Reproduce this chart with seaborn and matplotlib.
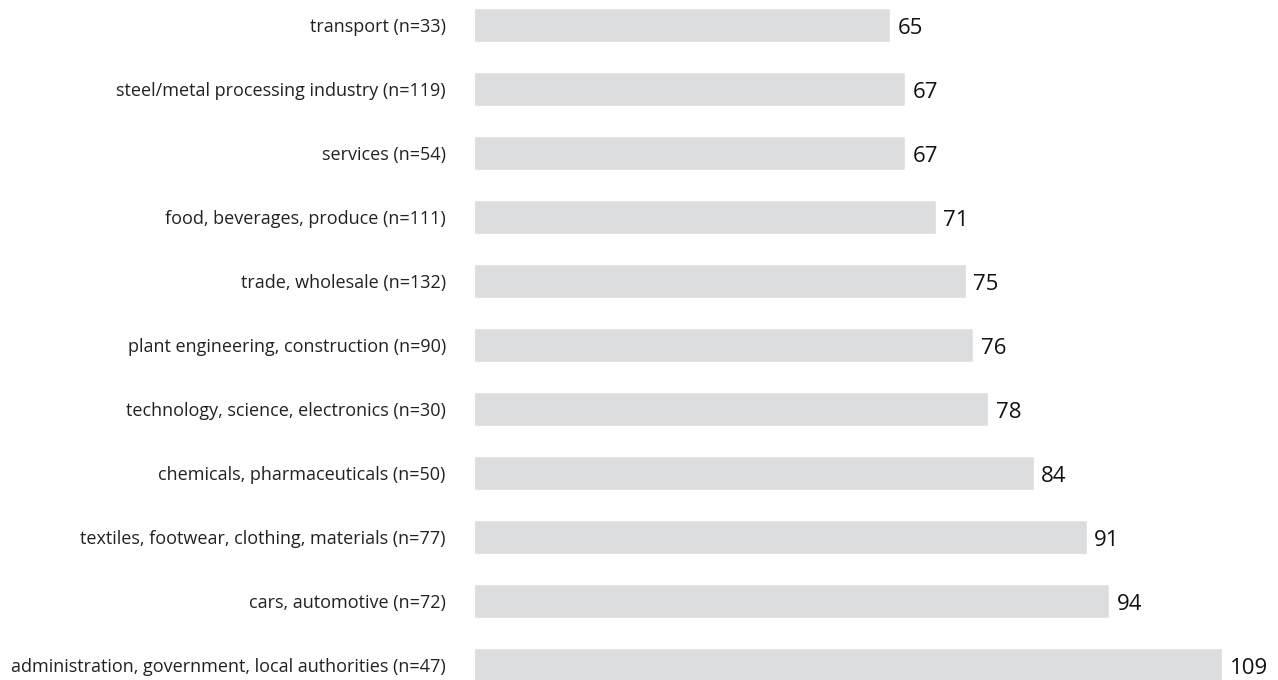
import numpy as np
import pandas as pd
import matplotlib
matplotlib.use('Agg')
import matplotlib.pyplot as plt
import seaborn as sns

# Data
sectors = [
    'transport (n=33)',
    'steel/metal processing industry (n=119)',
    'services (n=54)',
    'food, beverages, produce (n=111)',
    'trade, wholesale (n=132)',
    'plant engineering, construction (n=90)',
    'technology, science, electronics (n=30)',
    'chemicals, pharmaceuticals (n=50)',
    'textiles, footwear, clothing, materials (n=77)',
    'cars, automotive (n=72)',
    'administration, government, local authorities (n=47)',
]
values = [65, 67, 67, 71, 75, 76, 78, 84, 91, 94, 109]

df = pd.DataFrame({'sector': sectors, 'value': values})

sns.set_style('white')
plt.rcParams['font.family'] = ['Open Sans', 'DejaVu Sans']

fig = plt.figure(figsize=(12.78, 6.8), dpi=100)
ax = fig.add_axes([475 / 1278, 0, 803 / 1278, 1])

sns.barplot(data=df, y='sector', x='value', orient='h', color='#dcdddf',
            width=0.52, saturation=1, ax=ax)

ax.set_xlim(10, 10 + 803 / 7.55)
ax.set_ylim(10 + 15 / 64, -25 / 64)

# value labels just right of each bar
for i, v in enumerate(values):
    ax.annotate(f'{v}', xy=(v, i), xytext=(5.5, -2.2), textcoords='offset points',
                ha='left', va='center', fontsize=16, color='#111111')

ax.set_xlabel('')
ax.set_ylabel('')
ax.set_xticks([])
ax.tick_params(axis='y', length=0, pad=21, labelsize=13, labelcolor='#222222')
sns.despine(ax=ax, left=True, bottom=True)

fig.savefig('out.png', dpi=100)
